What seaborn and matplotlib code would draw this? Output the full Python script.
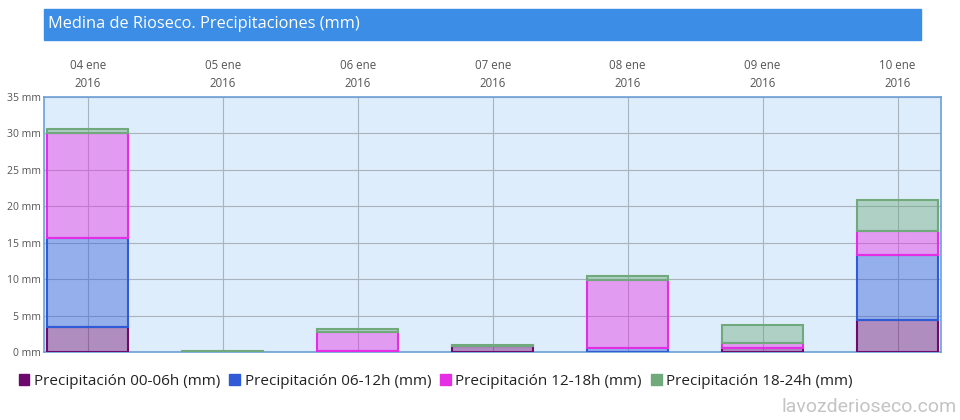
import numpy as np
import matplotlib
matplotlib.use("Agg")
import matplotlib.pyplot as plt
import pandas as pd
import seaborn as sns
from matplotlib.colors import to_rgba
from matplotlib.patches import Rectangle

# Chart data (mm of rain per 6h period)
days = ["04 ene\n2016", "05 ene\n2016", "06 ene\n2016", "07 ene\n2016",
        "08 ene\n2016", "09 ene\n2016", "10 ene\n2016"]
rain_00_06 = [3.4, 0.0, 0.0, 0.8, 0.0, 0.5, 4.4]
rain_06_12 = [12.2, 0.0, 0.1, 0.0, 0.5, 0.1, 8.9]
rain_12_18 = [14.5, 0.0, 2.6, 0.0, 9.4, 0.6, 3.3]
rain_18_24 = [0.5, 0.15, 0.4, 0.1, 0.5, 2.5, 4.2]
series_names = ["Precipitación 00-06h (mm)", "Precipitación 06-12h (mm)",
                "Precipitación 12-18h (mm)", "Precipitación 18-24h (mm)"]
y_ticks = [0, 5, 10, 15, 20, 25, 30, 35]

# Line colours for each period
line_colors = ["#6e0a6e", "#2f5bd6", "#e62de6", "#6fa97c"]

sns.set_theme(style="white")
plt.rcParams["font.family"] = ["Open Sans", "DejaVu Sans"]

df = pd.DataFrame({"day": days, "p1": rain_00_06, "p2": rain_06_12,
                   "p3": rain_12_18, "p4": rain_18_24})

fig = plt.figure(figsize=(9.6, 4.2), dpi=100)
ax = fig.add_axes([0.0458, 0.162, 0.9342, 0.607])
ax.set_facecolor("#deedfb")

# Stack the four periods
bottom = np.zeros(len(days))
for col, color in zip(["p1", "p2", "p3", "p4"], line_colors):
    sns.barplot(data=df, x="day", y=col, color=color, saturation=1,
                width=0.6, bottom=bottom, edgecolor=color, linewidth=1.5,
                ax=ax, zorder=3)
    for p in ax.containers[-1]:
        p.set_facecolor(to_rgba(color, 0.42))
    bottom = bottom + df[col].values

ax.set_ylim(0, 35)
ax.set_xlim(-0.325, 6.32)
ax.set_yticks(y_ticks)
ax.set_yticklabels([f"{t} mm" for t in y_ticks])
ax.xaxis.tick_top()
ax.set_xlabel("")
ax.set_ylabel("")
ax.tick_params(axis="both", length=0, labelsize=7.5, labelcolor="#555555")
ax.tick_params(axis="x", pad=5, labelsize=8.3)
ax.tick_params(axis="y", pad=2)
for lab in ax.get_xticklabels():
    lab.set_linespacing(1.55)
ax.grid(True, color="#a9b3bd", linewidth=0.8, zorder=1)
ax.set_axisbelow(True)
for s in ax.spines.values():
    s.set_color("#6d9fd6")
    s.set_linewidth(1.2)

# Title bar
fig.patches.append(Rectangle((0.0458, 0.905), 0.9135, 0.074,
                             transform=fig.transFigure, color="#3b8de6",
                             zorder=0))
fig.text(0.05, 0.942, "Medina de Rioseco. Precipitaciones (mm)",
         color="white", fontsize=11.8, va="center", ha="left")

# Legend
handles = [Rectangle((0, 0), 1, 1, color=c) for c in line_colors]
fig.legend(handles, series_names, loc="center left",
           bbox_to_anchor=(0.005, 0.092), ncol=4, frameon=False,
           fontsize=11, handlelength=0.7, handleheight=0.7,
           handletextpad=0.3, columnspacing=0.6, labelcolor="#222222")

# Watermark
fig.text(0.997, 0.03, "lavozderioseco.com", color="#c4c4c4", fontsize=14,
         ha="right", va="center",
         family=["Liberation Sans Narrow", "Roboto", "DejaVu Sans"])

fig.savefig("out.png", dpi=100, facecolor="white")
